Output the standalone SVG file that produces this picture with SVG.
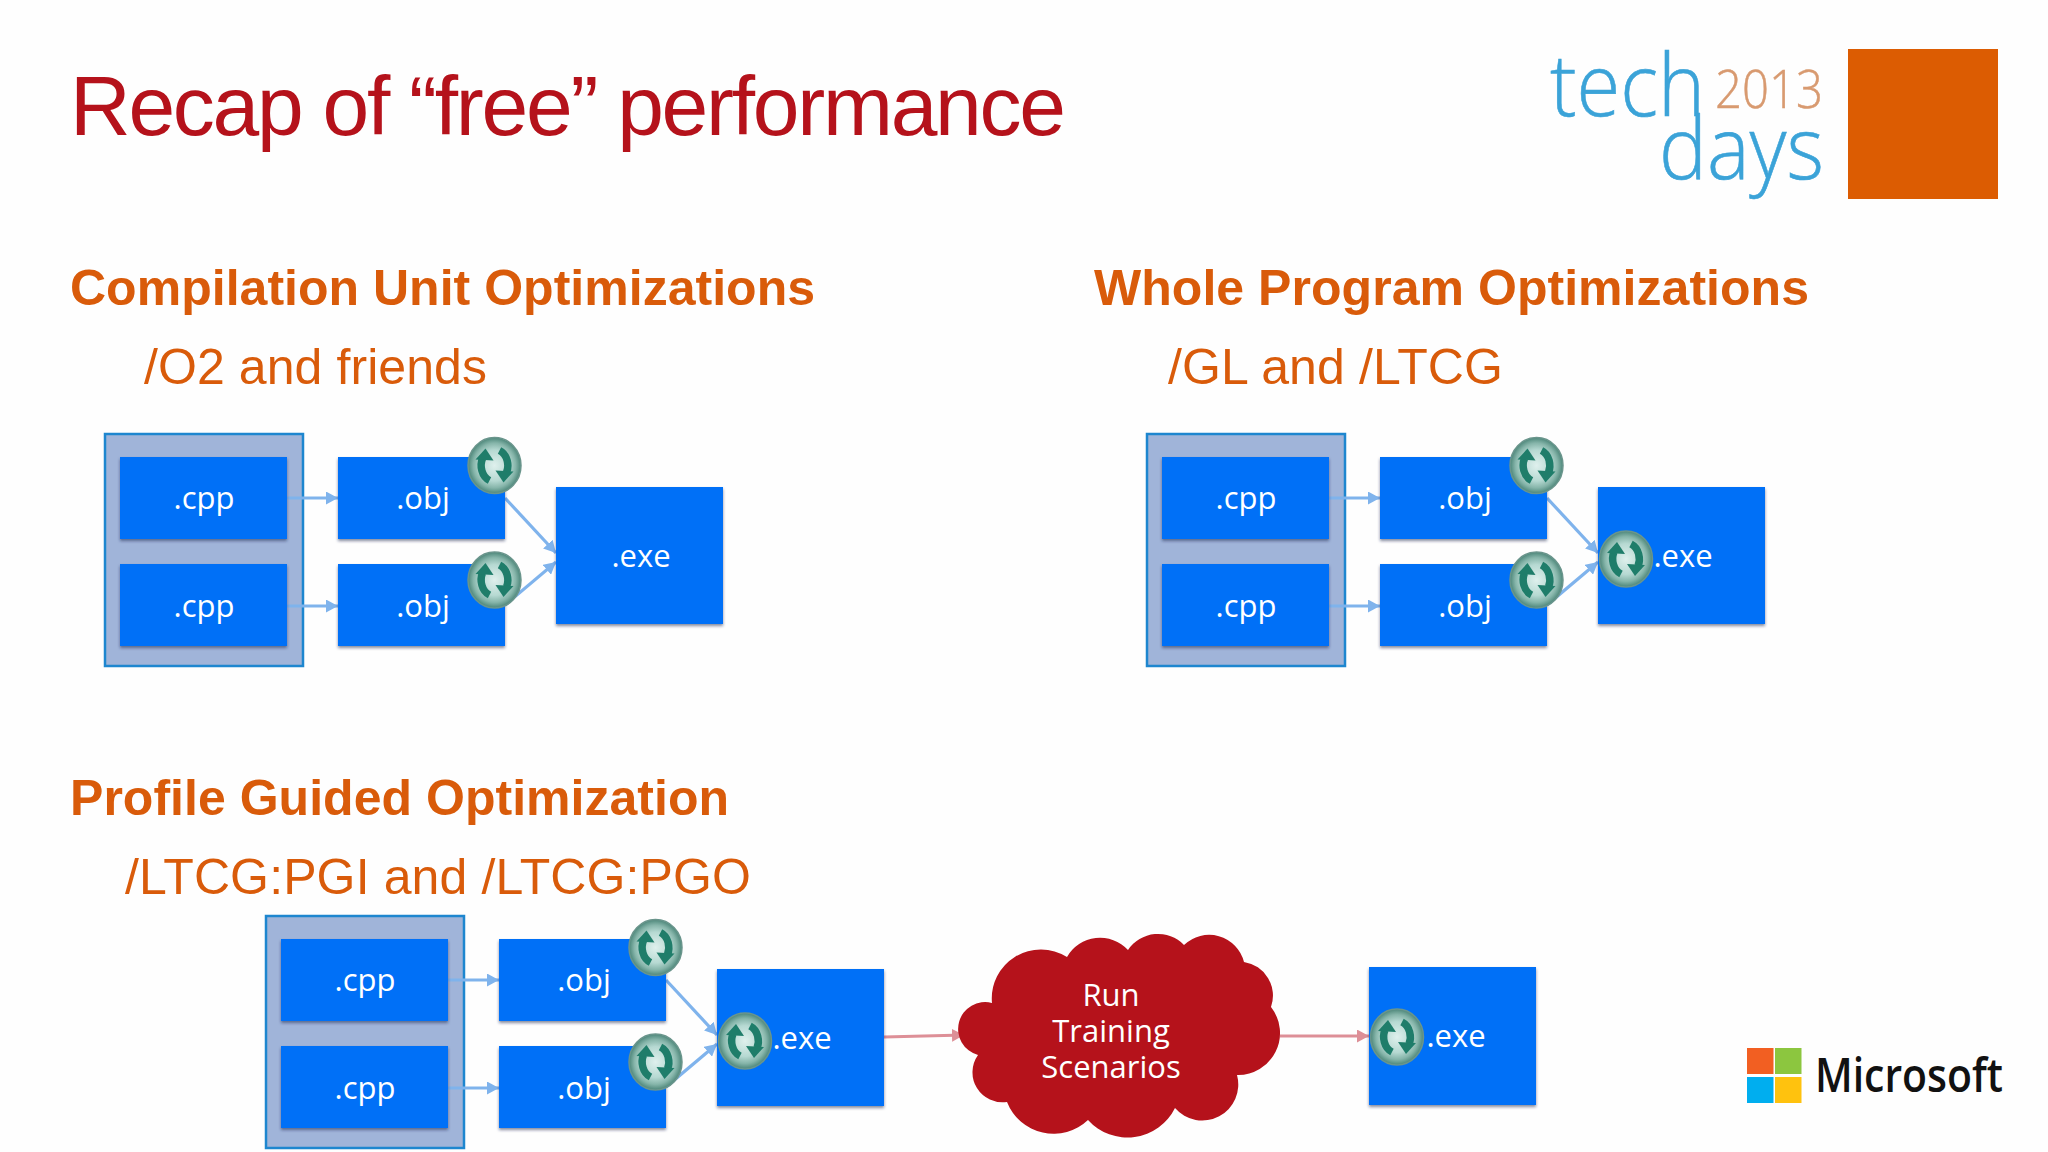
<svg xmlns="http://www.w3.org/2000/svg" xmlns:xlink="http://www.w3.org/1999/xlink" width="2048" height="1152" viewBox="0 0 2048 1152">
<style>
.title{font-family:"Liberation Sans",Arial,sans-serif;font-size:84px;fill:#b5121b}
.h{font-family:"Liberation Sans",Arial,sans-serif;font-size:50px;font-weight:bold;fill:#d95b0a}
.s{font-family:"Liberation Sans",Arial,sans-serif;font-size:50px;fill:#d95b0a}
.l{font-family:"Open Sans","Noto Sans",sans-serif;font-size:31px;fill:#fff;text-anchor:middle;font-weight:400}
.box{fill:#006ff7;filter:url(#sh)}
.cont{fill:#a0b4d9;stroke:#1d86cf;stroke-width:2.5}
.c{fill:none;stroke:#7fb3ec;stroke-width:3.2;marker-end:url(#a)}
.p{fill:none;stroke:#dd8f97;stroke-width:3.2;marker-end:url(#ap)}
.tech{font-family:"Open Sans",sans-serif;font-weight:300;fill:#3ba3d8;stroke:#3ba3d8;stroke-width:0.6}
</style>
<defs>
<filter id="sh" x="-10%" y="-10%" width="120%" height="125%"><feDropShadow dx="0" dy="2" stdDeviation="1.6" flood-color="#1b2c50" flood-opacity="0.55"/></filter>
<marker id="a" markerUnits="userSpaceOnUse" markerWidth="13" markerHeight="13" refX="12" refY="6.500" orient="auto"><path d="M0 0L12 6.500L0 13z" fill="#7fb3ec"/></marker>
<marker id="ap" markerUnits="userSpaceOnUse" markerWidth="13" markerHeight="13" refX="12" refY="6.500" orient="auto"><path d="M0 0L12 6.500L0 13z" fill="#dd8f97"/></marker>
<radialGradient id="ig" cx="50%" cy="50%" r="50%"><stop offset="0" stop-color="#dff0ed"/><stop offset="0.55" stop-color="#b6d9d2"/><stop offset="0.8" stop-color="#86b5aa"/><stop offset="1" stop-color="#4c8679"/></radialGradient>
<g id="icon">
<ellipse cx="0" cy="0" rx="26.500" ry="28" fill="url(#ig)" stroke="#6a958c" stroke-width="1.500"/>
<path d="M-5 15C-13 11-15 0-12-7" fill="none" stroke="#1f7d6a" stroke-width="7.500"/>
<path d="M-19-6L-9-17L-1-5z" fill="#1f7d6a"/>
<path d="M5-15C13-11 15 0 12 7" fill="none" stroke="#1f7d6a" stroke-width="7.500"/>
<path d="M19 6L9 17L1 5z" fill="#1f7d6a"/>
</g>
</defs>
<rect width="2048" height="1152" fill="#fefefe"/>
<text class="title" x="70" y="135" textLength="996">Recap of “free” performance</text>
<g id="logo-techdays">
<text class="tech" x="1550" y="116" font-size="87" textLength="155" lengthAdjust="spacingAndGlyphs">tech</text>
<text x="1715" y="108" font-family="Open Sans,sans-serif" font-weight="300" stroke="#d89a70" stroke-width="0.5" font-size="53" fill="#d89a70" textLength="108" lengthAdjust="spacingAndGlyphs">2013</text>
<text class="tech" x="1659" y="179" font-size="87" textLength="165" lengthAdjust="spacingAndGlyphs">days</text>
<rect x="1848" y="49" width="150" height="150" fill="#dc5c02"/>
</g>
<g id="logo-microsoft">
<rect x="1747" y="1048" width="26.500" height="26" fill="#f25f22"/>
<rect x="1775" y="1048" width="26.500" height="26" fill="#8cc63f"/>
<rect x="1747" y="1077" width="26.500" height="26" fill="#00aeef"/>
<rect x="1775" y="1077" width="26.500" height="26" fill="#ffc20e"/>
<text x="1815" y="1092" font-family="Open Sans,sans-serif" font-weight="600" font-size="47" fill="#111" textLength="188" lengthAdjust="spacingAndGlyphs">Microsoft</text>
</g>
<text class="h" x="70" y="305" textLength="745">Compilation Unit Optimizations</text>
<text class="s" x="144" y="384" textLength="343">/O2 and friends</text>
<text class="h" x="1094" y="305" textLength="715">Whole Program Optimizations</text>
<text class="s" x="1168" y="384" textLength="335">/GL and /LTCG</text>
<text class="h" x="70" y="815" textLength="659">Profile Guided Optimization</text>
<text class="s" x="125" y="894" textLength="626">/LTCG:PGI and /LTCG:PGO</text>

<g id="a-container"><rect class="cont" x="105" y="434" width="198" height="232"/></g>
<g id="b-container"><rect class="cont" x="1147" y="434" width="198" height="232"/></g>
<g id="c-container"><rect class="cont" x="266" y="916" width="198" height="232"/></g>

<g id="connectors">
<path class="c" d="M287 498H338"/><path class="c" d="M287 606H338"/><path class="c" d="M505 498L556 553"/><path class="c" d="M505 605L556 562"/>
<path class="c" d="M1329 498H1380"/><path class="c" d="M1329 606H1380"/><path class="c" d="M1547 498L1598 553"/><path class="c" d="M1547 605L1598 562"/>
<path class="c" d="M448 980H499"/><path class="c" d="M448 1088H499"/><path class="c" d="M666 980L717 1035"/><path class="c" d="M666 1087L717 1044"/>
<path class="p" d="M884 1037L964 1035"/><path class="p" d="M1280 1036H1369"/>
</g>

<g id="a-cpp1"><rect class="box" x="120" y="457" width="167" height="82"/><text class="l" x="204" y="509">.cpp</text></g>
<g id="a-cpp2"><rect class="box" x="120" y="564" width="167" height="82"/><text class="l" x="204" y="617">.cpp</text></g>
<g id="a-obj1"><rect class="box" x="338" y="457" width="167" height="82"/><text class="l" x="423" y="509">.obj</text><use href="#icon" x="494.500" y="465.500"/></g>
<g id="a-obj2"><rect class="box" x="338" y="564" width="167" height="82"/><text class="l" x="423" y="617">.obj</text><use href="#icon" x="494.500" y="580"/></g>
<g id="a-exe"><rect class="box" x="556" y="487" width="167" height="137"/><text class="l" x="641" y="567">.exe</text></g>

<g id="b-cpp1"><rect class="box" x="1162" y="457" width="167" height="82"/><text class="l" x="1246" y="509">.cpp</text></g>
<g id="b-cpp2"><rect class="box" x="1162" y="564" width="167" height="82"/><text class="l" x="1246" y="617">.cpp</text></g>
<g id="b-obj1"><rect class="box" x="1380" y="457" width="167" height="82"/><text class="l" x="1465" y="509">.obj</text><use href="#icon" x="1536.500" y="465.500"/></g>
<g id="b-obj2"><rect class="box" x="1380" y="564" width="167" height="82"/><text class="l" x="1465" y="617">.obj</text><use href="#icon" x="1536.500" y="580"/></g>
<g id="b-exe"><rect class="box" x="1598" y="487" width="167" height="137"/><text class="l" x="1683" y="567">.exe</text><use href="#icon" x="1626" y="559"/></g>

<g id="c-cpp1"><rect class="box" x="281" y="939" width="167" height="82"/><text class="l" x="365" y="991">.cpp</text></g>
<g id="c-cpp2"><rect class="box" x="281" y="1046" width="167" height="82"/><text class="l" x="365" y="1099">.cpp</text></g>
<g id="c-obj1"><rect class="box" x="499" y="939" width="167" height="82"/><text class="l" x="584" y="991">.obj</text><use href="#icon" x="655.500" y="947.500"/></g>
<g id="c-obj2"><rect class="box" x="499" y="1046" width="167" height="82"/><text class="l" x="584" y="1099">.obj</text><use href="#icon" x="655.500" y="1062"/></g>
<g id="c-exe"><rect class="box" x="717" y="969" width="167" height="137"/><text class="l" x="802" y="1049">.exe</text><use href="#icon" x="745" y="1041"/></g>

<g id="cloud">
<path fill="#b5121b" d="M978 1055A26 26 0 0 1 992 1003A49 49 0 0 1 1067 957A38 38 0 0 1 1128 950A36 36 0 0 1 1184 945A36 36 0 0 1 1244 962A34 34 0 0 1 1271 1007A42 42 0 0 1 1237 1075A36 36 0 0 1 1175 1108A53 53 0 0 1 1088 1120A50 50 0 0 1 1007 1102A30 30 0 0 1 978 1055z"/>
<text class="l" x="1111" y="1006">Run</text><text class="l" x="1111" y="1042">Training</text><text class="l" x="1111" y="1078">Scenarios</text>
</g>
<g id="exe2"><rect class="box" x="1369" y="967" width="167" height="138"/><text class="l" x="1456" y="1047">.exe</text><use href="#icon" x="1397" y="1037"/></g>
</svg>
